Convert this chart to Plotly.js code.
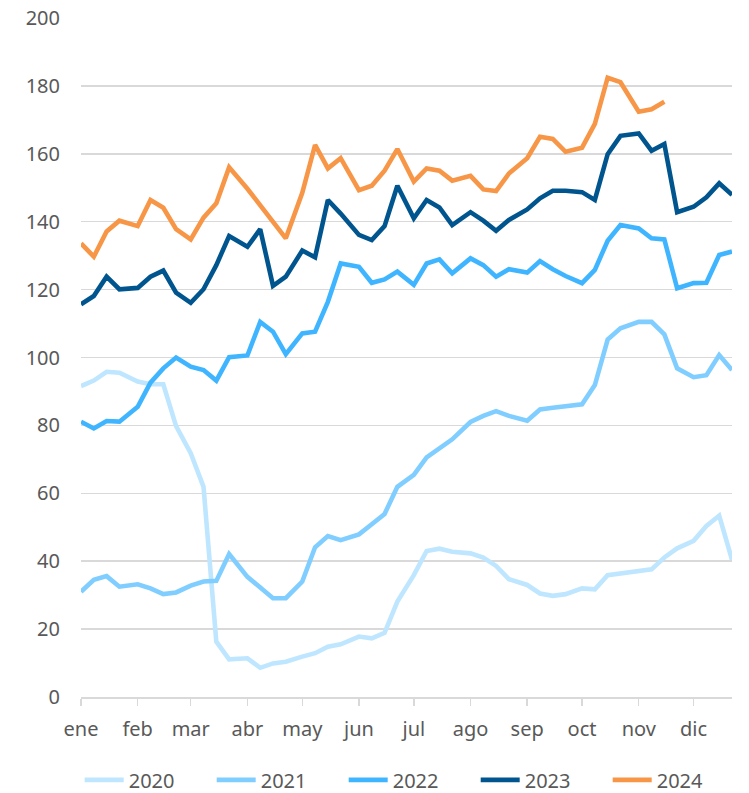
<!DOCTYPE html>
<html>
<head>
<meta charset="utf-8">
<script src="https://cdn.plot.ly/plotly-3.0.1.min.js"></script>
<style>html,body{margin:0;padding:0;background:#fff;}#chart{width:749px;height:793px;}</style>
</head>
<body>
<div id="chart"></div>
<script>
// Month labels and weekly sampling days (4 points per month)
const monthLabels = ['ene','feb','mar','abr','may','jun','jul','ago','sep','oct','nov','dic'];
const sampleDays = [1, 8, 15, 22];

const y2020 = [91.6, 93.2, 95.8, 95.5, 92.9, 92.1, 92.1, 79.8, 71.8, 61.9, 16.3, 11.1,
  11.4, 8.6, 9.9, 10.4, 11.9, 12.9, 14.8, 15.5, 17.8, 17.3, 18.9, 28.1,
  35.9, 43.0, 43.7, 42.8, 42.3, 41.1, 38.6, 34.7, 33.0, 30.5, 29.8, 30.3,
  32.0, 31.7, 35.9, 36.4, 37.2, 37.6, 41.1, 43.8, 46.0, 50.4, 53.4, 40.4];
const y2021 = [31.0, 34.5, 35.6, 32.5, 33.2, 32.0, 30.3, 30.8, 32.8, 34.0, 34.2, 42.1,
  35.4, 32.3, 29.1, 29.1, 34.0, 44.1, 47.4, 46.2, 47.9, 50.9, 53.9, 61.9,
  65.4, 70.6, 73.2, 75.9, 81.0, 82.8, 84.2, 82.8, 81.4, 84.7, 85.2, 85.5,
  86.2, 91.9, 105.3, 108.6, 110.5, 110.5, 106.8, 96.8, 94.2, 94.8, 100.7, 96.3];
const y2022 = [81.1, 79.1, 81.3, 81.1, 85.5, 92.6, 96.8, 100.0, 97.3, 96.3, 93.2, 100.1,
  100.6, 110.5, 107.6, 101.0, 107.1, 107.6, 116.4, 127.7, 126.7, 122.0, 123.0, 125.3,
  121.4, 127.7, 128.9, 124.8, 129.2, 127.2, 123.8, 126.0, 125.0, 128.4, 126.0, 124.0,
  121.9, 125.8, 134.4, 139.0, 138.0, 135.1, 134.8, 120.4, 121.9, 122.0, 130.2, 131.2];
const y2023 = [115.7, 118.1, 123.8, 120.1, 120.5, 123.8, 125.6, 119.1, 116.1, 120.1, 127.2, 135.8,
  132.6, 137.8, 121.1, 123.8, 131.5, 129.5, 146.4, 142.4, 136.1, 134.6, 138.7, 150.6,
  141.0, 146.4, 144.2, 139.0, 142.8, 140.3, 137.3, 140.5, 143.6, 146.9, 149.1, 149.1,
  148.7, 146.4, 159.9, 165.3, 166.0, 160.9, 162.9, 142.8, 144.4, 147.2, 151.3, 147.9];
const y2024 = [133.6, 129.7, 137.1, 140.3, 138.7, 146.4, 144.1, 137.8, 134.8, 141.2, 145.4, 156.0,
  149.7, 144.9, 140.3, 135.1, 148.5, 162.6, 155.7, 158.7, 149.3, 150.6, 155.0, 161.4,
  151.8, 155.7, 155.0, 152.1, 153.5, 149.5, 149.0, 154.2, 158.7, 165.0, 164.4, 160.6,
  161.8, 168.8, 182.4, 181.1, 172.4, 173.1, 175.3];

const seriesNames = ['2020','2021','2022','2023','2024'];
const seriesValues = [y2020, y2021, y2022, y2023, y2024];
const seriesColors = ['#BFE6FF','#80CEFF','#40B5FF','#00558E','#F79646'];

// common calendar (leap year) for x positions
const pad = n => String(n).padStart(2,'0');
const xDates = [];
for (let m = 1; m <= 12; m++) for (const d of sampleDays) xDates.push('2024-' + pad(m) + '-' + pad(d));
const tickDates = monthLabels.map((_, i) => '2024-' + pad(i + 1) + '-01');

const traces = seriesNames.map((name, i) => ({
  type: 'scatter', mode: 'lines', name: name,
  x: xDates.slice(0, seriesValues[i].length), y: seriesValues[i],
  line: {color: seriesColors[i], width: 4.6, shape: 'linear'},
  hoverinfo: 'skip'
}));

const font = {family: '"Noto Sans", "Open Sans", sans-serif', size: 20, color: '#595959'};
const layout = {
  width: 749, height: 793,
  margin: {l: 81, r: 17, t: 18, b: 96, pad: 0, autoexpand: false},
  paper_bgcolor: '#ffffff', plot_bgcolor: '#ffffff',
  font: font,
  showlegend: true,
  legend: {orientation: 'h', x: -0.002, xanchor: 'left', y: -0.122, yanchor: 'middle',
           font: font, entrywidth: 78, entrywidthmode: 'pixels', traceorder: 'normal',
           itemwidth: 39, tracegroupgap: 0},
  xaxis: {
    type: 'date', range: ['2024-01-01', '2024-12-22'],
    tickmode: 'array', tickvals: tickDates, ticktext: monthLabels,
    showgrid: false, zeroline: false,
    showline: true, linecolor: '#d9d9d9', linewidth: 1.5,
    ticks: 'outside', ticklen: 7, tickwidth: 1.5, tickcolor: '#d9d9d9',
    ticklabelstandoff: 6,
    tickfont: font, fixedrange: true
  },
  yaxis: {
    range: [0, 200], tickmode: 'array', tickvals: [0,20,40,60,80,100,120,140,160,180,200],
    showgrid: true, gridcolor: '#d9d9d9', gridwidth: 1.5, zeroline: false,
    showline: false, ticks: '', ticklabelstandoff: 20,
    tickfont: font, fixedrange: true
  }
};

Plotly.newPlot('chart', traces, layout, {displayModeBar: false, staticPlot: true});
</script>
</body>
</html>
